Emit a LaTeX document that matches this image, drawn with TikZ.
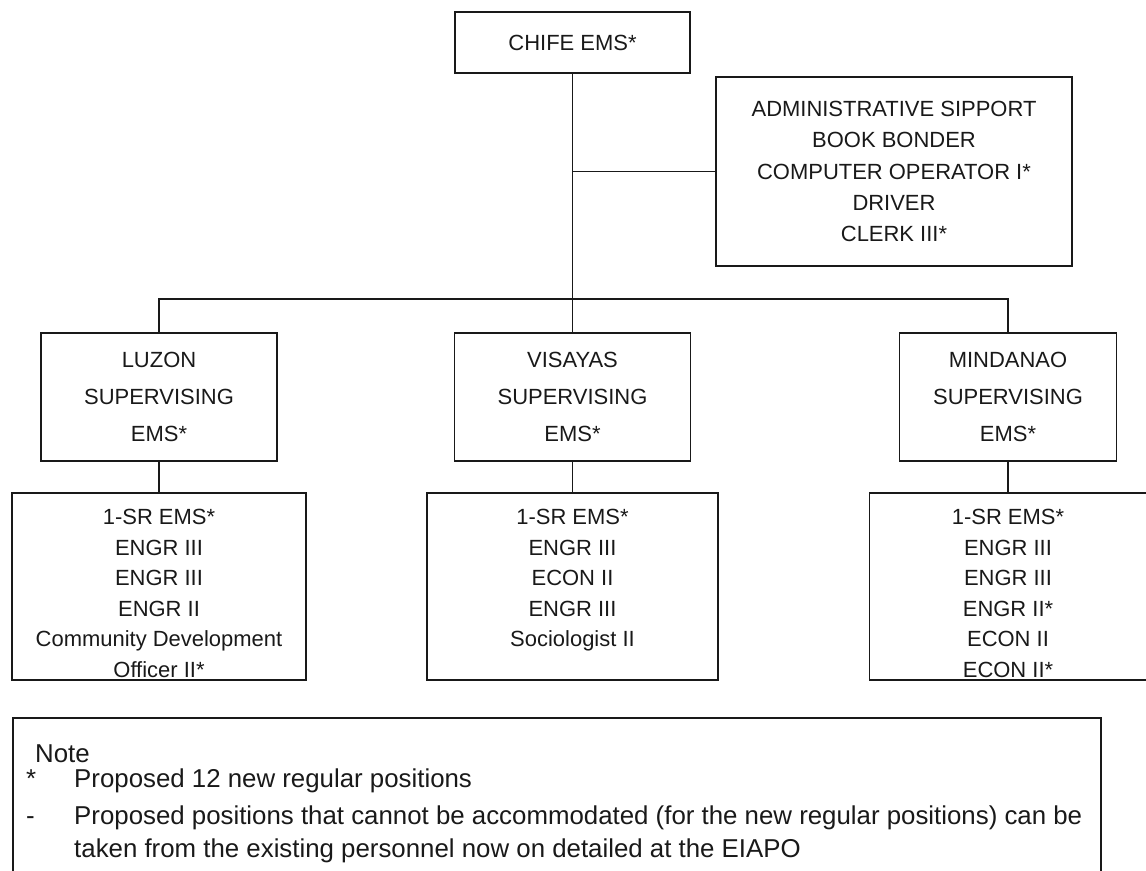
\documentclass[tikz,border=0pt]{standalone}
\usepackage{fontspec}
\setmainfont{Liberation Sans}
\usepackage{tikz}
\usepackage{xcolor}
\definecolor{ink}{rgb}{0.1,0.1,0.1}

\begin{document}
\begin{tikzpicture}[every node/.style={text=ink, align=center, font=\fontsize{12.5}{17.4}\selectfont},
	posbox/.style={draw=ink, line width=1pt, inner sep=0pt},
	link/.style={draw=ink, line width=0.8pt}]
\useasboundingbox (0,0) rectangle (22.92,-17.4);
\coordinate (1) at (11.45, -0.85);
\coordinate (2) at (17.88, -3.43);
\coordinate (bar) at (11.45, -5.98);
\coordinate (3) at (3.18, -7.94);
\coordinate (4) at (11.45, -7.94);
\coordinate (5) at (20.16, -7.94);
\coordinate (6) at (3.18, -11.73);
\coordinate (7) at (11.45, -11.73);
\coordinate (8) at (20.16, -11.73);

\node(chief)[posbox, minimum width=4.7cm, minimum height=1.22cm] at (1) {CHIFE EMS*};
\node(admin)[posbox, minimum width=7.12cm, minimum height=3.78cm, font=\fontsize{12.5}{17.8}\selectfont] at (2) {ADMINISTRATIVE SIPPORT\\BOOK BONDER\\COMPUTER OPERATOR I*\\DRIVER\\CLERK III*};

\node(luzon)[posbox, minimum width=4.72cm, minimum height=2.56cm, font=\fontsize{12.5}{21}\selectfont] at (3) {LUZON\\SUPERVISING\\EMS*};
\node(visayas)[posbox, minimum width=4.72cm, minimum height=2.56cm, font=\fontsize{12.5}{21}\selectfont] at (4) {VISAYAS\\SUPERVISING\\EMS*};
\node(mindanao)[posbox, minimum width=4.34cm, minimum height=2.56cm, font=\fontsize{12.5}{21}\selectfont] at (5) {MINDANAO\\SUPERVISING\\EMS*};

\node(luzonstaff)[posbox, minimum width=5.88cm, minimum height=3.74cm] at (6) {};
\node(visayasstaff)[posbox, minimum width=5.82cm, minimum height=3.74cm] at (7) {};
\node(mindanaostaff)[posbox, minimum width=5.54cm, minimum height=3.74cm] at (8) {};
\node(luzonlist)[anchor=north] at ([yshift=-0.22cm]luzonstaff.north) {1-SR EMS*\\ENGR III\\ENGR III\\ENGR II\\Community Development\\Officer II*};
\node(visayaslist)[anchor=north] at ([yshift=-0.22cm]visayasstaff.north) {1-SR EMS*\\ENGR III\\ECON II\\ENGR III\\Sociologist II};
\node(mindanaolist)[anchor=north] at ([yshift=-0.22cm]mindanaostaff.north) {1-SR EMS*\\ENGR III\\ENGR III\\ENGR II*\\ECON II\\ECON II*};

\draw[link] (chief.south) -- (visayas.north);
\draw[link] (admin.west) -- (admin.west -| chief.south);
\draw[link] (luzon.north) |- (bar) -| (mindanao.north);
\draw[link] (luzon) -- (luzonstaff);
\draw[link] (visayas) -- (visayasstaff);
\draw[link] (mindanao) -- (mindanaostaff);

\node(notebox)[posbox, anchor=north west, minimum width=21.76cm, minimum height=3.4cm] at (0.24, -14.34) {};
\node(notehead)[anchor=base west, font=\fontsize{14.7}{17}\selectfont] at (0.58, -15.24) {Note};
\node(mark1)[anchor=base west, font=\fontsize{14.7}{17}\selectfont] at (0.4, -15.74) {*};
\node(mark2)[anchor=base west, font=\fontsize{14.7}{17}\selectfont] at (0.4, -16.48) {-};
\node(note1)[anchor=base west, font=\fontsize{14.7}{17}\selectfont] at (1.36, -15.74) {Proposed 12 new regular positions};
\node(note2)[anchor=base west, font=\fontsize{14.7}{17}\selectfont] at (1.36, -16.48) {Proposed positions that cannot be accommodated (for the new regular positions) can be};
\node(note3)[anchor=base west, font=\fontsize{14.7}{17}\selectfont] at (1.36, -17.14) {taken from the existing personnel now on detailed at the EIAPO};
\end{tikzpicture}
\end{document}
